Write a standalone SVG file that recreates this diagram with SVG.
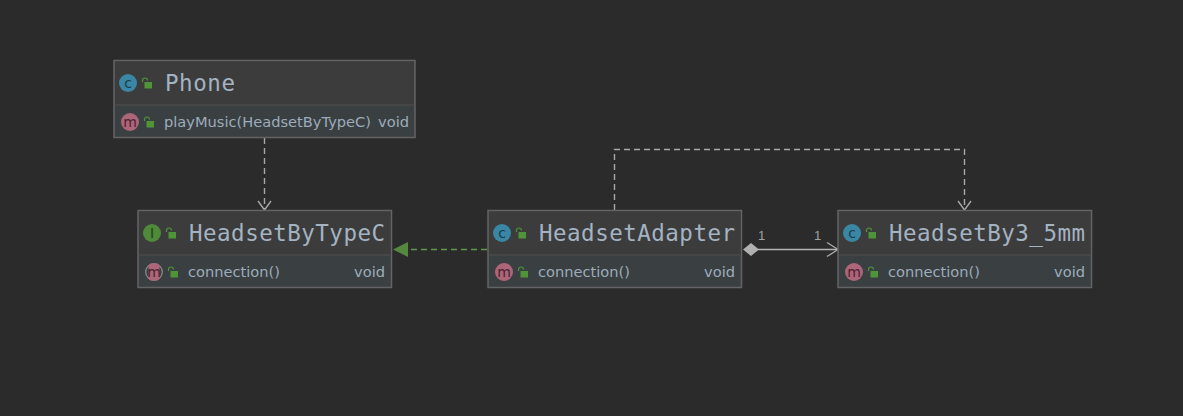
<svg xmlns="http://www.w3.org/2000/svg" width="1183" height="416" viewBox="0 0 1183 416">
<style>
.box{fill:#3a3f42;stroke:#646464;stroke-width:1.5}
.head{fill:#3c3c3c}
.div{stroke:#4a4a4a;stroke-width:1.5}
.title{font:22.5px "DejaVu Sans Mono",monospace;fill:#a4b3c2}
.mem{font:14.5px "DejaVu Sans",sans-serif;fill:#9dacba}
.ic{font:14px "DejaVu Sans",sans-serif;text-anchor:middle}
.c{fill:#3a87a5}.m{fill:#ad6579}.i{fill:#4e8a3a}
.lk{fill:#4f9438}.lks{fill:none;stroke:#4f9438;stroke-width:1.2}
.edge{fill:none;stroke:#a8a8a8;stroke-width:1.4}
.dash{stroke-dasharray:6 4}
.card{font:13px "Liberation Sans",sans-serif;fill:#a0a0a0}
</style>
<defs>
<g id="lock"><rect x="-0.500" y="-1" width="7.500" height="6.500" class="lk"/><path d="M-2.500 -1 V-2.500 A2.500 2.500 0 0 1 2.500 -2.500" class="lks"/></g>
</defs>
<rect width="1183" height="416" fill="#2b2b2b"/>
<g id="connectors">
<path class="edge dash" d="M264.500 138V209"/>
<path class="edge" d="M258 201L264.500 210L271 201"/>
<path class="edge dash" d="M487 249.500H410" style="stroke:#5f9a4c"/>
<polygon points="393,249.500 408,242 408,257" fill="#54883f"/>
<path class="edge dash" d="M614.500 210V149.500H964.500V209"/>
<path class="edge" d="M958 201L964.500 210L971 201"/>
<path class="edge" d="M758 249.500H837" style="stroke-width:1.5;stroke:#b4b4b4"/>
<polygon points="743,249.500 751,243 759,249.500 751,256" fill="#b0b0b0"/>
<path class="edge" d="M827 242.500L838 249.500L827 256.500"/>
<text class="card" x="758" y="240">1</text>
<text class="card" x="814" y="240">1</text>
</g>
<g id="phone">
<rect class="box" x="114" y="60.500" width="301" height="77"/>
<rect class="head" x="115" y="61.500" width="299" height="43.500"/>
<line class="div" x1="115" y1="105" x2="414" y2="105"/>
<circle class="c" cx="128" cy="83" r="9"/><text class="ic" x="128" y="87.500" fill="#1f3a48">c</text>
<use href="#lock" x="145" y="83"/>
<text class="title" x="165" y="91" textLength="70">Phone</text>
<circle class="m" cx="130" cy="122" r="9"/><text class="ic" x="130" y="126.500" fill="#4a2230">m</text>
<use href="#lock" x="147" y="122"/>
<text class="mem" x="164" y="126.700" textLength="207" lengthAdjust="spacingAndGlyphs">playMusic(HeadsetByTypeC)</text>
<text class="mem" x="378" y="126.700" textLength="31" lengthAdjust="spacingAndGlyphs">void</text>
</g>
<g id="headsetByTypeC">
<rect class="box" x="138" y="210.500" width="253.500" height="77"/>
<rect class="head" x="139" y="211.500" width="251.500" height="43.500"/>
<line class="div" x1="139" y1="255" x2="390.500" y2="255"/>
<circle class="i" cx="152" cy="233" r="9"/><text class="ic" x="152" y="238" fill="#24401c">I</text>
<use href="#lock" x="169" y="233"/>
<text class="title" x="189" y="241" textLength="196">HeadsetByTypeC</text>
<circle cx="154" cy="272" r="8.300" fill="#3a3f42" stroke="#8c8c8c" stroke-width="1.200"/><rect x="148.500" y="263.500" width="11" height="17" rx="3" class="m"/><text class="ic" x="154" y="276.500" fill="#4a2230">m</text>
<use href="#lock" x="171" y="272"/>
<text class="mem" x="188" y="276.700" textLength="92" lengthAdjust="spacingAndGlyphs">connection()</text>
<text class="mem" x="354" y="276.700" textLength="31" lengthAdjust="spacingAndGlyphs">void</text>
</g>
<g id="headsetAdapter">
<rect class="box" x="488" y="210.500" width="253.500" height="77"/>
<rect class="head" x="489" y="211.500" width="251.500" height="43.500"/>
<line class="div" x1="489" y1="255" x2="740.500" y2="255"/>
<circle class="c" cx="502" cy="233" r="9"/><text class="ic" x="502" y="237.500" fill="#1f3a48">c</text>
<use href="#lock" x="519" y="233"/>
<text class="title" x="539" y="241" textLength="196">HeadsetAdapter</text>
<circle class="m" cx="504" cy="272" r="9"/><text class="ic" x="504" y="276.500" fill="#4a2230">m</text>
<use href="#lock" x="521" y="272"/>
<text class="mem" x="538" y="276.700" textLength="92" lengthAdjust="spacingAndGlyphs">connection()</text>
<text class="mem" x="704" y="276.700" textLength="31" lengthAdjust="spacingAndGlyphs">void</text>
</g>
<g id="headsetBy3_5mm">
<rect class="box" x="838" y="210.500" width="253.500" height="77"/>
<rect class="head" x="839" y="211.500" width="251.500" height="43.500"/>
<line class="div" x1="839" y1="255" x2="1090.500" y2="255"/>
<circle class="c" cx="852" cy="233" r="9"/><text class="ic" x="852" y="237.500" fill="#1f3a48">c</text>
<use href="#lock" x="869" y="233"/>
<text class="title" x="889" y="241" textLength="196">HeadsetBy3_5mm</text>
<circle class="m" cx="854" cy="272" r="9"/><text class="ic" x="854" y="276.500" fill="#4a2230">m</text>
<use href="#lock" x="871" y="272"/>
<text class="mem" x="888" y="276.700" textLength="92" lengthAdjust="spacingAndGlyphs">connection()</text>
<text class="mem" x="1054" y="276.700" textLength="31" lengthAdjust="spacingAndGlyphs">void</text>
</g>
</svg>
